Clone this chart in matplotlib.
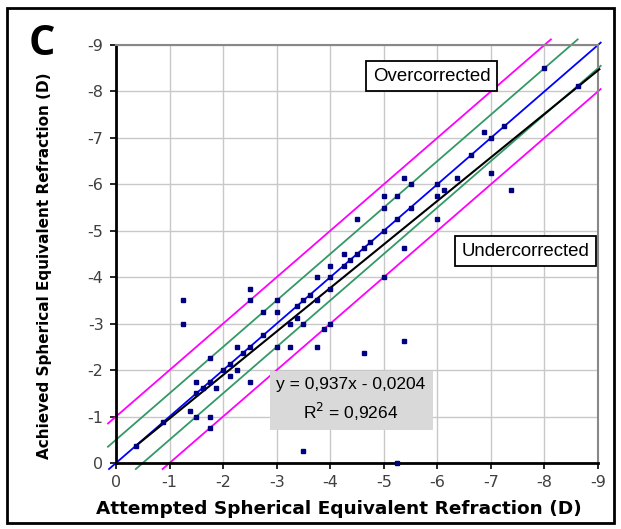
import numpy as np
import matplotlib
matplotlib.use("Agg")
from matplotlib import pyplot as plt
from matplotlib.patches import Rectangle

plt.rcParams['axes.unicode_minus'] = False

# attempted vs achieved spherical equivalent refraction (D)
attempted = [-0.375, -0.875, -1.25, -1.25, -1.375, -1.5, -1.5, -1.5, -1.625, -1.75,
             -1.75, -1.75, -1.75, -1.875, -2.0, -2.125, -2.125, -2.25, -2.25, -2.375,
             -2.5, -2.5, -2.5, -2.5, -2.75, -2.75, -3.0, -3.0, -3.0, -3.25,
             -3.25, -3.375, -3.375, -3.5, -3.5, -3.5, -3.625, -3.75, -3.75, -3.75,
             -3.875, -4.0, -4.0, -4.0, -4.0, -4.25, -4.25, -4.375, -4.5, -4.5,
             -4.625, -4.625, -4.75, -5.0, -5.0, -5.0, -5.0, -5.25, -5.25, -5.25,
             -5.375, -5.375, -5.375, -5.5, -5.5, -6.0, -6.0, -6.0, -6.125, -6.375,
             -6.625, -6.875, -7.0, -7.0, -7.25, -7.375, -8.0, -8.625]
achieved = [-0.375, -0.875, -3.5, -3.0, -1.125, -1.0, -1.5, -1.75, -1.625, -1.75,
            -1.0, -0.75, -2.25, -1.625, -2.0, -1.875, -2.125, -2.0, -2.5, -2.375,
            -2.5, -1.75, -3.5, -3.75, -2.75, -3.25, -3.5, -3.25, -2.5, -3.0,
            -2.5, -3.125, -3.375, -3.0, -3.5, -0.25, -3.625, -4.0, -3.5, -2.5,
            -2.875, -4.0, -4.25, -3.75, -3.0, -4.5, -4.25, -4.375, -4.5, -5.25,
            -4.625, -2.375, -4.75, -5.0, -5.5, -5.75, -4.0, -5.25, -5.75, 0.0,
            -6.125, -4.625, -2.625, -5.5, -6.0, -6.0, -5.75, -5.25, -5.875, -6.125,
            -6.625, -7.125, -7.0, -6.25, -7.25, -5.875, -8.5, -8.125]

slope = 0.937
intercept = -0.0204
r_squared = 0.9264
offsets = [1.0, 0.5, 0.0, -0.5, -1.0]   # achieved = attempted - offset
offset_colors = ['#ff00ff', '#339966', '#0000ff', '#339966', '#ff00ff']
ticks = list(range(0, -10, -1))

fig = plt.figure(figsize=(6.21, 5.29), dpi=100)
ax = fig.add_axes([0.1868, 0.1248, 0.7762, 0.7902])

ax.set_xlim(0, -9)
ax.set_ylim(0, -9)
ax.set_xticks(ticks)
ax.set_yticks(ticks)
ax.grid(True, color='#c8c8c8', linewidth=1.0)
ax.set_axisbelow(True)
ax.tick_params(direction='out', length=4, width=1.2, labelsize=11.5,
               labelcolor='#404040', pad=5)

for s in ['left', 'bottom']:
    ax.spines[s].set_linewidth(2.0)
    ax.spines[s].set_color('black')
for s in ['top', 'right']:
    ax.spines[s].set_linewidth(1.5)
    ax.spines[s].set_color('#888888')

# reference lines, drawn a bit past the axes like the original
lo, hi = 0.13, -9.12
for off, col in zip(offsets, offset_colors):
    x0 = min(0.15, lo + off)
    x1 = max(-9.05, hi + off)
    xs = np.array([x0, x1])
    ax.plot(xs, xs - off, color=col, linewidth=1.3, clip_on=False, zorder=2)

# trend line over the data range
xs = np.array([max(attempted), min(attempted) - 0.4])
ax.plot(xs, slope * xs + intercept, color='black', linewidth=1.5,
        clip_on=False, zorder=3)

ax.plot(attempted, achieved, linestyle='none', marker='s', markersize=3,
        color='#000080', zorder=4, clip_on=False)

box_font = dict(family='Liberation Sans', size=13.4)
ax.text(-5.89, -8.33, 'Overcorrected', ha='center', va='center', zorder=6,
        bbox=dict(boxstyle='square,pad=0.35', fc='white', ec='black', lw=1.3),
        **box_font)
ax.text(-7.65, -4.56, 'Undercorrected', ha='center', va='center', zorder=6,
        bbox=dict(boxstyle='square,pad=0.35', fc='white', ec='black', lw=1.3),
        **box_font)
eq = 'y = {:.3f}x - {:.4f}'.format(slope, -intercept).replace('.', ',')
r2 = 'R$^2$ = {:.4f}'.format(r_squared).replace('.', ',')
ax.text(-4.39, -1.35, eq + '\n' + r2, ha='center', va='center', zorder=6,
        linespacing=1.5, multialignment='center', family='Liberation Sans',
        size=12.5,
        bbox=dict(boxstyle='square,pad=0.4', fc='#d9d9d9', ec='none'))

ax.set_xlabel('Attempted Spherical Equivalent Refraction (D)', fontsize=13.3,
              fontweight='bold')
ax.xaxis.set_label_coords(0.463, -0.088)
ax.set_ylabel('Achieved Spherical Equivalent Refraction (D)', fontsize=11.0,
              fontweight='bold')
ax.yaxis.set_label_coords(-0.132, 0.472)

fig.text(0.068, 0.915, 'C', fontsize=30, fontweight='bold', family='Open Sans',
         ha='center', va='center')

fig.patches.append(Rectangle((7 / 621, 1 - 523 / 529), 607 / 621, 515 / 529,
                             transform=fig.transFigure, fill=False,
                             edgecolor='black', linewidth=2))

fig.savefig('out.png', dpi=100)
